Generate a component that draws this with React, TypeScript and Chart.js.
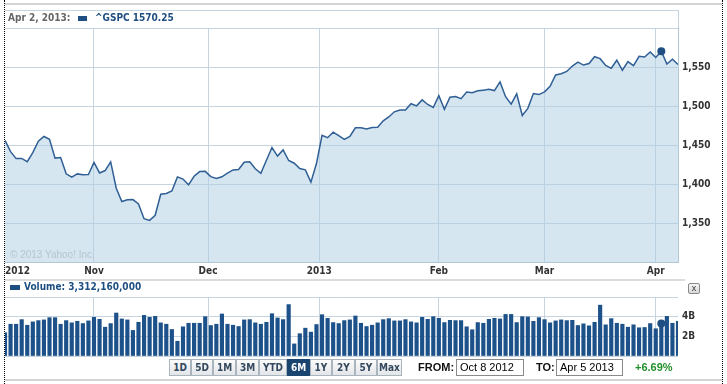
import React, { useEffect, useRef } from 'react';
import { Chart, registerables } from 'chart.js';

Chart.register(...registerables);

// ---- trading days (Oct 8 2012 .. Apr 5 2013) ----
const octDays = [8, 9, 10, 11, 12, 15, 16, 17, 18, 19, 22, 23, 24, 25, 26, 31];
const novDays = [1, 2, 5, 6, 7, 8, 9, 12, 13, 14, 15, 16, 19, 20, 21, 23, 26, 27, 28, 29, 30];
const decDays = [3, 4, 5, 6, 7, 10, 11, 12, 13, 14, 17, 18, 19, 20, 21, 24, 26, 27, 28, 31];
const janDays = [2, 3, 4, 7, 8, 9, 10, 11, 14, 15, 16, 17, 18, 22, 23, 24, 25, 28, 29, 30, 31];
const febDays = [1, 4, 5, 6, 7, 8, 11, 12, 13, 14, 15, 19, 20, 21, 22, 25, 26, 27, 28];
const marDays = [1, 4, 5, 6, 7, 8, 11, 12, 13, 14, 15, 18, 19, 20, 21, 22, 25, 26, 27, 28];
const aprDays = [1, 2, 3, 4, 5];

const tradingDays: string[] = [
  ...octDays.map((d) => `Oct ${d}, 2012`),
  ...novDays.map((d) => `Nov ${d}, 2012`),
  ...decDays.map((d) => `Dec ${d}, 2012`),
  ...janDays.map((d) => `Jan ${d}, 2013`),
  ...febDays.map((d) => `Feb ${d}, 2013`),
  ...marDays.map((d) => `Mar ${d}, 2013`),
  ...aprDays.map((d) => `Apr ${d}, 2013`),
];

// ^GSPC close
const closes = [
  1455.88, 1441.48, 1432.56, 1432.84, 1428.59, 1440.13, 1454.92, 1460.91, 1457.34, 1433.19, 1433.82, 1413.11, 1408.75, 1412.97, 1411.94, 1412.16,
  1427.59, 1414.2, 1417.26, 1428.39, 1394.53, 1377.51, 1379.85, 1380.03, 1374.53, 1355.49, 1353.33, 1359.88, 1386.89, 1387.81, 1391.03, 1409.15, 1406.29, 1398.94, 1409.93, 1415.95, 1416.18,
  1409.46, 1407.05, 1409.28, 1413.94, 1418.07, 1418.55, 1427.84, 1428.48, 1419.45, 1413.58, 1430.36, 1446.79, 1435.81, 1443.69, 1430.15, 1426.66, 1419.83, 1418.1, 1402.43, 1426.19,
  1462.42, 1459.37, 1466.47, 1461.89, 1457.15, 1461.02, 1472.12, 1472.05, 1470.68, 1472.34, 1472.63, 1480.94, 1485.98, 1492.56, 1494.81, 1494.82, 1502.96, 1500.18, 1507.84, 1501.96, 1498.11,
  1513.17, 1495.71, 1511.29, 1512.12, 1509.39, 1517.93, 1517.01, 1519.43, 1520.33, 1521.38, 1519.79, 1530.94, 1511.95, 1502.42, 1515.6, 1487.85, 1496.94, 1515.99, 1514.68,
  1518.2, 1525.2, 1539.79, 1541.46, 1544.26, 1551.18, 1556.22, 1552.48, 1554.52, 1563.23, 1560.7, 1552.1, 1548.34, 1558.71, 1545.8, 1556.89, 1551.69, 1563.77, 1562.85, 1569.19,
  1562.17, 1570.25, 1553.69, 1559.98, 1553.28,
];

// volume, billions of shares
const volumes = [
  2.37, 3.23, 3.23, 3.7, 3.13, 3.47, 3.6, 3.67, 3.9, 3.9, 3.23, 3.6, 3.37, 3.53, 3.3, 3.57,
  3.93, 3.73, 2.93, 3.3, 4.37, 3.77, 3.67, 2.6, 3.43, 4.13, 3.93, 4.03, 3.37, 3.23, 2.7, 1.5, 2.97, 3.33, 3.33, 3.33,
  4.0, 3.1, 3.23, 4.27, 3.23, 3.13, 3.0, 3.67, 3.7, 3.37, 3.23, 3.43, 4.3, 3.87, 3.7, 5.23, 1.23, 2.27, 2.83, 2.43, 3.2,
  4.2, 3.83, 3.4, 3.3, 3.6, 3.67, 4.07, 3.33, 3.0, 3.13, 3.37, 3.7, 3.8, 3.57, 3.57, 3.7, 3.47, 3.37, 3.93, 3.73, 4.0,
  3.83, 3.4, 3.63, 3.6, 3.6, 2.97, 2.67, 3.4, 3.33, 3.73, 3.83, 3.77, 4.23, 4.23, 3.4, 4.0, 3.97, 3.53, 3.9,
  3.7, 3.37, 3.57, 3.67, 3.6, 3.63, 3.1, 3.27, 3.07, 3.43, 5.17, 3.17, 3.8, 3.33, 3.23, 2.93, 3.17, 2.87, 2.9, 3.3,
  2.77, 3.31, 4.03, 3.33, 3.53,
];

// x-axis ticks (trading-day index of month boundaries)
const monthTickPos = [0, 16, 36.5, 56.5, 78, 97, 117, 121];
const monthTickLabels = ['2012', 'Nov', 'Dec', '2013', 'Feb', 'Mar', 'Apr', ''];

const priceTicks = [1300, 1350, 1400, 1450, 1500, 1550, 1600];
const priceTickLabels = ['', '1,350', '1,400', '1,450', '1,500', '1,550', ''];

const volumeTicks = [0, 2, 4, 6];
const volumeTickLabels = ['', '2B', '4B', ''];

const rangeButtons = ['1D', '5D', '1M', '3M', 'YTD', '6M', '1Y', '2Y', '5Y', 'Max'];
const selectedRange = '6M';
const fromDate = 'Oct 8 2012';
const toDate = 'Apr 5 2013';
const changePct = '+6.69%';
const markDate = 'Apr 2, 2013';
const symbol = '^GSPC';
const markVolumeText = '3,312,160,000';

// ---- styles ----
const FONT = "'DejaVu Sans Condensed', 'DejaVu Sans', sans-serif";
const ARIAL = "'Liberation Sans', Arial, sans-serif";
const BLUE = '#1f4f82';
const LINE = '#2f5f94';
const BAR = '#1d5189';
const GRID = '#c6d4df';
const AXIS = '#b4c7d6';
const TRANSPARENT = 'rgba(0,0,0,0)';
const buttonWidths = [22, 22, 23, 23, 28, 23, 22, 23, 22, 25];

function zeroPad(s: any) {
  s.paddingTop = 0;
  s.paddingBottom = 0;
  s.paddingLeft = 0;
  s.paddingRight = 0;
}

export default function App() {
  const mainRef = useRef<HTMLCanvasElement>(null);
  const volRef = useRef<HTMLCanvasElement>(null);

  useEffect(() => {
    const lastIdx = closes.length - 1;
    const markIdx = tradingDays.indexOf(markDate);
    const tickFont = { family: FONT, size: 10, weight: 'bold' as const };

    const main = new Chart(mainRef.current as HTMLCanvasElement, {
      type: 'line',
      data: {
        datasets: [
          {
            data: closes.map((c, i) => ({ x: i, y: c })),
            borderColor: LINE,
            borderWidth: 1.5,
            backgroundColor: 'rgba(173,205,227,0.5)',
            fill: 'start',
            tension: 0,
            pointRadius: (ctx: any) => (ctx.dataIndex === markIdx ? 4 : 0),
            pointBackgroundColor: BLUE,
            pointBorderWidth: 0,
          },
        ],
      },
      options: {
        animation: false,
        responsive: false,
        events: [],
        layout: { padding: { left: 5, top: 28, right: 0, bottom: 0 } },
        plugins: { legend: { display: false }, tooltip: { enabled: false } },
        scales: {
          x: {
            type: 'linear',
            min: 0,
            max: lastIdx,
            afterBuildTicks: (s: any) => {
              s.ticks = monthTickPos.map((v) => ({ value: v }));
            },
            afterFit: (s: any) => {
              s.height = 18;
              zeroPad(s);
            },
            grid: {
              color: (ctx: any) => (ctx.tick && ctx.tick.value === 0 ? TRANSPARENT : GRID),
              drawTicks: false,
            },
            border: { color: AXIS },
            ticks: {
              align: 'inner',
              padding: 3,
              maxRotation: 0,
              autoSkip: false,
              color: '#333',
              font: tickFont,
              callback: (_v: any, i: number) => monthTickLabels[i],
            },
          },
          y: {
            position: 'right',
            min: priceTicks[0],
            max: priceTicks[priceTicks.length - 1],
            afterBuildTicks: (s: any) => {
              s.ticks = priceTicks.map((v) => ({ value: v }));
            },
            afterFit: (s: any) => {
              s.width = 49;
              zeroPad(s);
            },
            grid: { color: GRID, drawTicks: false },
            border: { color: AXIS },
            ticks: {
              padding: 4,
              color: '#333',
              font: tickFont,
              callback: (_v: any, i: number) => priceTickLabels[i],
            },
          },
        },
      },
    } as any);

    const vol = new Chart(volRef.current as HTMLCanvasElement, {
      type: 'bar',
      data: {
        datasets: [
          {
            type: 'line',
            data: [{ x: markIdx, y: volumes[markIdx] }],
            showLine: false,
            pointRadius: 4,
            pointBackgroundColor: BLUE,
            pointBorderWidth: 0,
            order: 0,
          },
          {
            type: 'bar',
            data: volumes.map((v, i) => ({ x: i, y: v })),
            backgroundColor: BAR,
            barThickness: 3.5,
            order: 1,
          },
        ],
      },
      options: {
        animation: false,
        responsive: false,
        events: [],
        layout: { padding: { left: 5, top: 17, right: 0, bottom: 3 } },
        plugins: { legend: { display: false }, tooltip: { enabled: false } },
        scales: {
          x: {
            type: 'linear',
            offset: false,
            min: 0,
            max: lastIdx,
            afterBuildTicks: (s: any) => {
              s.ticks = monthTickPos.map((v) => ({ value: v }));
            },
            afterFit: (s: any) => {
              s.height = 0;
              zeroPad(s);
            },
            grid: {
              offset: false,
              color: (ctx: any) =>
                ctx.tick && (ctx.tick.value === 0 || ctx.tick.value === lastIdx) ? TRANSPARENT : GRID,
              drawTicks: false,
            },
            border: { display: false },
            ticks: { display: false },
          },
          y: {
            position: 'right',
            min: volumeTicks[0],
            max: volumeTicks[volumeTicks.length - 1],
            afterBuildTicks: (s: any) => {
              s.ticks = volumeTicks.map((v) => ({ value: v }));
            },
            afterFit: (s: any) => {
              s.width = 49;
              zeroPad(s);
            },
            grid: { color: GRID, drawTicks: false },
            border: { display: false },
            ticks: {
              padding: 4,
              color: '#333',
              font: tickFont,
              callback: (_v: any, i: number) => volumeTickLabels[i],
            },
          },
        },
      },
    } as any);

    return () => {
      main.destroy();
      vol.destroy();
    };
  }, []);

  const markIdx = tradingDays.indexOf(markDate);
  const abs = (s: React.CSSProperties): React.CSSProperties => ({ position: 'absolute', ...s });

  let bx = 169;
  const buttons = rangeButtons.map((b, i) => {
    const w = buttonWidths[i];
    const sel = b === selectedRange;
    const el = (
      <div
        key={b}
        style={abs({
          left: bx,
          top: 359,
          width: w,
          height: 17,
          boxSizing: 'border-box',
          border: `1px solid ${sel ? '#1a4570' : '#aab4bd'}`,
          background: sel ? '#1a4570' : 'linear-gradient(#fbfbfb, #e3e6e9)',
          color: sel ? '#fff' : '#34495e',
          font: `bold 10px ${FONT}`,
          lineHeight: '15px',
          textAlign: 'center',
        })}
      >
        {b}
      </div>
    );
    bx += w;
    return el;
  });

  return (
    <div style={abs({ left: 0, top: 0, width: 727, height: 384, overflow: 'hidden', background: '#fff' })}>
      {/* page frame lines */}
      <div style={abs({ left: 4, top: 0, width: 0, height: 384, borderLeft: '1px dotted #000' })} />
      <div style={abs({ left: 722, top: 0, width: 0, height: 384, borderLeft: '1px dotted #000' })} />
      <div style={abs({ left: 5, top: 3, width: 717, height: 2, background: '#d4d4d4' })} />
      <div style={abs({ left: 5, top: 279, width: 680, height: 2, background: '#dcdcdc' })} />
      <div style={abs({ left: 5, top: 379, width: 717, height: 2, background: '#d4d4d4' })} />

      {/* header box */}
      <div
        style={abs({
          left: 5,
          top: 10,
          width: 674,
          height: 19,
          boxSizing: 'border-box',
          borderTop: `1px solid ${GRID}`,
          borderRight: `1px solid ${GRID}`,
        })}
      />

      <canvas ref={mainRef} width={727} height={280} style={abs({ left: 0, top: 0, width: 727, height: 280 })} />
      <canvas ref={volRef} width={727} height={80} style={abs({ left: 0, top: 280, width: 727, height: 80 })} />

      {/* main legend */}
      <div style={abs({ left: 8, top: 12, font: `bold 10px ${FONT}`, color: '#666', lineHeight: '12px', whiteSpace: 'nowrap' })}>
        {markDate}:
      </div>
      <div style={abs({ left: 78, top: 16, width: 9, height: 5, background: BLUE })} />
      <div style={abs({ left: 95, top: 12, font: `bold 10px ${FONT}`, color: BLUE, lineHeight: '12px', whiteSpace: 'nowrap' })}>
        {symbol} {closes[markIdx].toFixed(2)}
      </div>

      <div style={abs({ left: 10, top: 249, font: `10px ${ARIAL}`, color: '#b6c4ce', lineHeight: '12px', whiteSpace: 'nowrap' })}>
        © 2013 Yahoo! Inc.
      </div>

      {/* volume legend */}
      <div style={abs({ left: 10, top: 285, width: 10, height: 5, background: BLUE })} />
      <div style={abs({ left: 24, top: 281, font: `bold 10px ${FONT}`, color: BLUE, lineHeight: '12px', whiteSpace: 'nowrap' })}>
        Volume: {markVolumeText}
      </div>

      {/* close box */}
      <div
        style={abs({
          left: 688,
          top: 283,
          width: 12,
          height: 11,
          boxSizing: 'border-box',
          border: '1px solid #888',
          borderRadius: 2,
          background: 'linear-gradient(#f6f6f6, #d8d8d8)',
          font: `9px ${ARIAL}`,
          lineHeight: '8px',
          textAlign: 'center',
          color: '#333',
        })}
      >
        x
      </div>

      {/* range buttons */}
      {buttons}

      {/* date range */}
      <div style={abs({ left: 418, top: 361, font: `bold 11px ${ARIAL}`, color: '#111', lineHeight: '13px' })}>FROM:</div>
      <div
        style={abs({
          left: 456,
          top: 359,
          width: 68,
          height: 17,
          boxSizing: 'border-box',
          border: '1px solid #8a8a8a',
          background: '#fff',
          font: `11px ${ARIAL}`,
          lineHeight: '15px',
          paddingLeft: 3,
          color: '#000',
          whiteSpace: 'nowrap',
        })}
      >
        {fromDate}
      </div>
      <div style={abs({ left: 536, top: 361, font: `bold 11px ${ARIAL}`, color: '#111', lineHeight: '13px' })}>TO:</div>
      <div
        style={abs({
          left: 556,
          top: 359,
          width: 67,
          height: 17,
          boxSizing: 'border-box',
          border: '1px solid #8a8a8a',
          background: '#fff',
          font: `11px ${ARIAL}`,
          lineHeight: '15px',
          paddingLeft: 3,
          color: '#000',
          whiteSpace: 'nowrap',
        })}
      >
        {toDate}
      </div>
      <div style={abs({ left: 635, top: 361, font: `bold 11px ${ARIAL}`, color: '#21902a', lineHeight: '13px' })}>{changePct}</div>
    </div>
  );
}
